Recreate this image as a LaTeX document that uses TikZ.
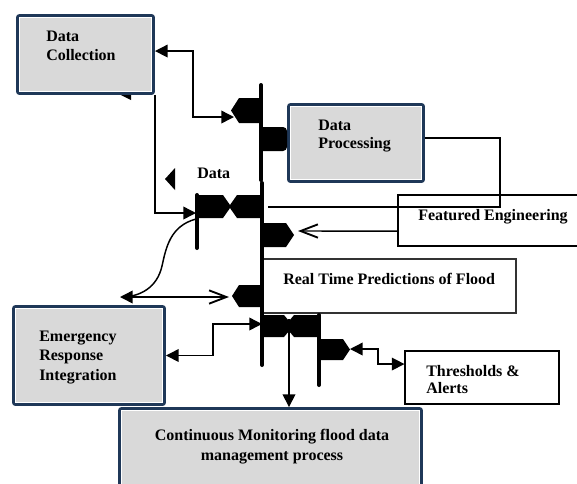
\documentclass[tikz,border=0pt]{standalone}
\usepackage{fontspec}
\setmainfont{Liberation Serif}
\usetikzlibrary{arrows.meta}
\definecolor{navy}{RGB}{31,56,88}
\definecolor{boxgray}{RGB}{217,217,217}
\newcommand\innerln[1]{\draw[white,line width=0.5pt] ([shift={(2.7pt,-2.7pt)}]#1.north west) rectangle ([shift={(-2.7pt,2.7pt)}]#1.south east);}
\tikzset{
  ftri/.tip={Triangle[length=9.5pt,width=9.5pt]},
  obarb/.tip={Straight Barb[length=13pt,width=10pt,line width=1.4pt]},
}
\begin{document}
\begin{tikzpicture}[x=0.75pt,y=-0.75pt,
  heavy/.style={draw=navy,line width=2.5pt,fill=boxgray,rounded corners=1.5pt,inner sep=0pt},
  lightbox/.style={draw=black,line width=0.8pt,inner sep=0pt},
  lbl/.style={font=\bfseries\fontsize{12}{14}\selectfont,inner sep=0pt,align=left},
  conn/.style={line width=1.1pt,draw=black},
  barline/.style={line width=3pt,line cap=round},
  blk/.style={fill=black}]
\useasboundingbox (0,0) rectangle (577,483);
\clip (0,0) rectangle (577,483);

% light boxes
\node[lightbox,draw=black!80,minimum width=189.75pt,minimum height=40.5pt] (rt) at (389.5,286) {};
\node[lightbox,minimum width=151.5pt,minimum height=38.25pt] (fe) at (499,220.5) {};
\node[lightbox,minimum width=115.5pt,minimum height=39.75pt] (ta) at (482,377.5) {};

% small wedge under Data Collection
\fill[blk] (119,94) -- (131,88) -- (131,100) -- cycle;

% heavy boxes
\node[heavy,minimum width=101.7pt,minimum height=58.2pt] (dc) at (85.5,54.5) {};
\innerln{dc}
\node[heavy,minimum width=100.95pt,minimum height=57.45pt] (dp) at (356,143) {};
\innerln{dp}
\node[heavy,minimum width=112.95pt,minimum height=73.2pt] (er) at (89,355.5) {};
\innerln{er}
\node[heavy,minimum width=226.2pt,minimum height=63.2pt] (cm) at (270.5,450.85) {};
\innerln{cm}

% texts
\node[lbl,anchor=north west,font=\bfseries\fontsize{12}{13.7}\selectfont] (dct) at (46,31) {Data\\Collection};
\node[lbl,anchor=north west,font=\bfseries\fontsize{12}{13.5}\selectfont] (dpt) at (318,119.4) {Data\\Processing};
\node[lbl,anchor=north west,font=\bfseries\fontsize{12}{14.6}\selectfont] (ert) at (39,330.4) {Emergency\\Response\\Integration};
\node[lbl,anchor=north,align=center,font=\bfseries\fontsize{12}{15}\selectfont] (cmt) at (272,429) {Continuous Monitoring flood data\\management process};
\node[lbl,anchor=base west] (rtt) at (283,284) {Real Time Predictions of Flood};
\node[lbl,anchor=base west] (fet) at (418,220) {Featured Engineering};
\node[lbl,anchor=north west,font=\bfseries\fontsize{12}{12.8}\selectfont] (tat) at (426,365) {Thresholds \&\\Alerts};
\node[lbl,anchor=base west] (dlab) at (197,178) {Data};

% coordinates
\coordinate (p1a) at (234,117);
\coordinate (b1a) at (196,213);
\coordinate (p2a) at (298,231);
\coordinate (fe0) at (268,207);
\coordinate (fec) at (500,207);
\coordinate (ht) at (120,297);
\coordinate (p3a) at (229,297);
\coordinate (cs) at (196,219);
\coordinate (b2a) at (262,324);
\coordinate (b2n) at (289,319);
\coordinate (p4a) at (350,349);

% black shapes
\fill[blk] (261,98) -- (239,98) -- (231,110.5) -- (239,123) -- (261,123) -- cycle;
\fill[blk,rounded corners=3pt] (259,127) -- (287,127) -- (287,151) -- (259,151) -- cycle;
\fill[blk] (197,195) -- (223,195) -- (230,205) -- (237,195) -- (262,195) -- (262,218) -- (237,218) -- (230,208) -- (223,218) -- (197,218) -- cycle;
\fill[blk] (262,223) -- (286,223) -- (294,235) -- (286,247) -- (262,247) -- cycle;
\fill[blk] (262,285) -- (239,285) -- (232,296) -- (239,307) -- (262,307) -- cycle;
\fill[blk] (262,315) -- (284,315) -- (289,321) -- (294,315) -- (320,315) -- (320,337) -- (294,337) -- (289,331) -- (284,337) -- (262,337) -- cycle;
\fill[blk] (319,339) -- (343,339) -- (350,349.5) -- (343,360) -- (319,360) -- cycle;
\fill[blk] (175,168) -- (165,179) -- (175,190) -- cycle;

% bars
\draw[barline] (261,85) -- (261,180);
\draw[barline] (262,183) -- (262,365);
\draw[barline] (197,195) -- (197,248);
\draw[barline] (319,315) -- (319,385);

% connectors
\draw[conn,{ftri}-{ftri}] ([yshift=2.6pt]dc.east) -| (193,90) |- (p1a);
\draw[conn,-{ftri}] (dc.south east) |- (b1a);
\draw[conn] ([yshift=3.75pt]dp.east) -| (fec) -- (fe0);
\draw[conn,-{obarb}] ([yshift=-7.9pt]fe.west) -- (p2a);
\draw[conn,{ftri}-{obarb}] (ht) -- (p3a);
\draw[conn] (cs) .. controls (170,226) and (166,248) .. (162,266) .. controls (157,288) and (140,296) .. (124,297);
\draw[conn,{ftri}-{ftri}] (er.east) -| (213,340) |- (b2a);
\draw[conn,-{ftri}] (b2n) -- (b2n |- cm.north);
\draw[conn,{ftri}-{ftri}] (p4a) -| (378,356) |- ([yshift=10.1pt]ta.west);
\end{tikzpicture}
\end{document}
